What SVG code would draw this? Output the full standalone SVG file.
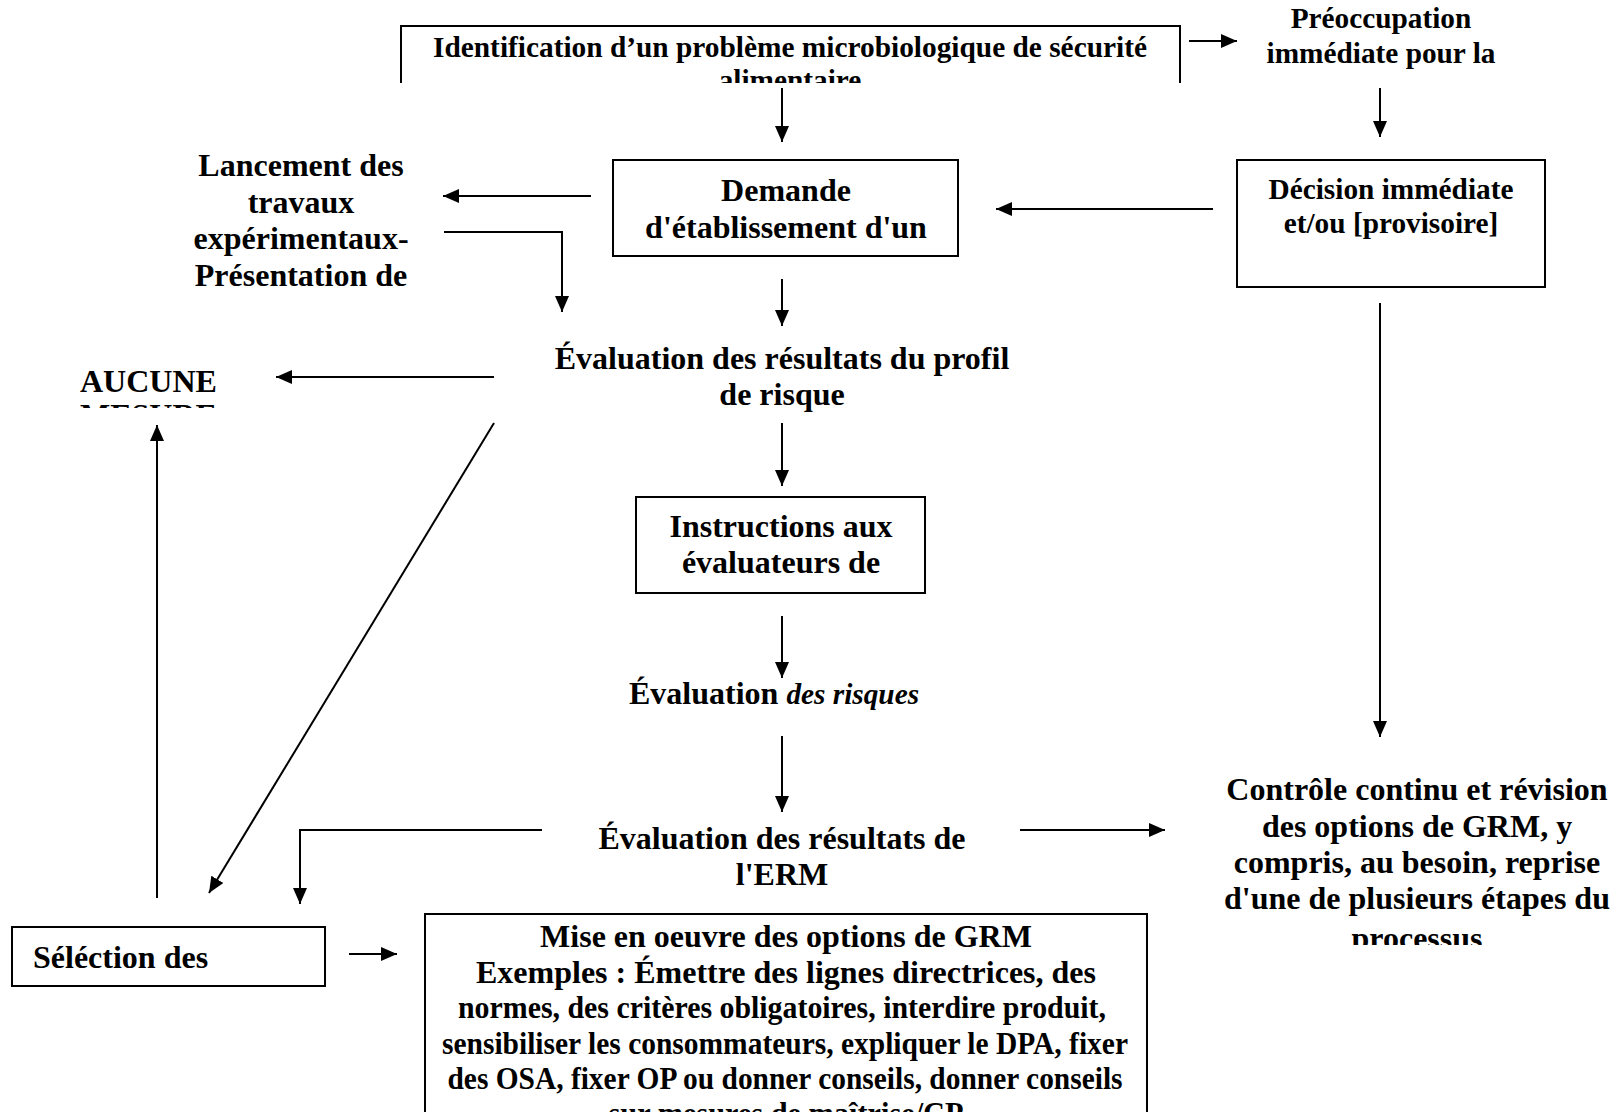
<svg xmlns="http://www.w3.org/2000/svg" width="1619" height="1112" viewBox="0 0 1619 1112">
<style>
.t{font-family:"Liberation Serif","Times New Roman",serif;font-weight:bold;font-size:32px;text-anchor:middle;fill:#000}
.s{font-size:29.3px}
.b{fill:#fff;stroke:#000;stroke-width:2}
.o{fill:none;stroke:#000;stroke-width:2}
.c{fill:none;stroke:#000;stroke-width:2;marker-end:url(#ah)}
</style>
<defs>
<marker id="ah" markerUnits="userSpaceOnUse" markerWidth="17" markerHeight="15" refX="16" refY="7" orient="auto">
<path d="M0,0 L16,7 L0,14 Z" fill="#000"/>
</marker>
<clipPath id="clipTop"><rect x="0" y="0" width="1619" height="83"/></clipPath>
<clipPath id="clipAucune"><rect x="0" y="340" width="400" height="68"/></clipPath>
<clipPath id="clipCtrl"><rect x="1180" y="740" width="439" height="205"/></clipPath>
</defs>
<rect width="1619" height="1112" fill="#fff"/>

<g id="connectors">
<path class="c" d="M1189,41 H1237"/>
<path class="c" d="M1380,88 V137"/>
<path class="c" d="M1213,209 H996"/>
<path class="c" d="M782,88 V142"/>
<path class="c" d="M591,196 H443"/>
<path class="c" d="M444,232 H562 V312"/>
<path class="c" d="M782,279 V326"/>
<path class="c" d="M494,377 H276"/>
<path class="c" d="M494,423 L209,893"/>
<path class="c" d="M782,423 V486"/>
<path class="c" d="M782,616 V678"/>
<path class="c" d="M782,736 V812"/>
<path class="c" d="M542,830 H300 V904"/>
<path class="c" d="M1020,830 H1165"/>
<path class="c" d="M1380,303 V737"/>
<path class="c" d="M157,898 V425"/>
<path class="c" d="M349,954 H397"/>
</g>

<g id="n-identification">
<path class="o" d="M401,83 V26 H1180 V83"/>
<g clip-path="url(#clipTop)">
<text class="t s" x="790" y="57" textLength="714" lengthAdjust="spacingAndGlyphs">Identification d’un problème microbiologique de sécurité</text>
<text class="t s" x="790" y="90">alimentaire</text>
</g>
</g>

<g id="n-preoccupation">
<text class="t s" x="1381" y="28">Préoccupation</text>
<text class="t s" x="1381" y="63">immédiate pour la</text>
</g>

<g id="n-decision">
<rect class="b" x="1237" y="160" width="308" height="127"/>
<text class="t s" x="1391" y="199">Décision immédiate</text>
<text class="t s" x="1391" y="233">et/ou [provisoire]</text>
</g>

<g id="n-demande">
<rect class="b" x="613" y="160" width="345" height="96"/>
<text class="t" x="786" y="201">Demande</text>
<text class="t" x="786" y="238">d'établissement d'un</text>
</g>

<g id="n-lancement">
<text class="t" x="301" y="176">Lancement des</text>
<text class="t" x="301" y="213">travaux</text>
<text class="t" x="301" y="249">expérimentaux-</text>
<text class="t" x="301" y="286">Présentation de</text>
</g>

<g id="n-eval-profil">
<text class="t" x="782" y="369">Évaluation des résultats du profil</text>
<text class="t" x="782" y="405">de risque</text>
</g>

<g id="n-aucune">
<g clip-path="url(#clipAucune)">
<text class="t" x="80" y="392" style="text-anchor:start">AUCUNE</text>
<text class="t" x="80" y="426" style="text-anchor:start">MESURE</text>
</g>
</g>

<g id="n-instructions">
<rect class="b" x="636" y="497" width="289" height="96"/>
<text class="t" x="781" y="537">Instructions aux</text>
<text class="t" x="781" y="573">évaluateurs de</text>
</g>

<g id="n-eval-risques">
<text class="t" x="629" y="704" style="text-anchor:start">Évaluation <tspan style="font-style:italic;font-size:29.3px">des risques</tspan></text>
</g>

<g id="n-eval-erm">
<text class="t" x="782" y="849">Évaluation des résultats de</text>
<text class="t" x="782" y="885">l'ERM</text>
</g>

<g id="n-controle">
<g clip-path="url(#clipCtrl)">
<text class="t" x="1417" y="800">Contrôle continu et révision</text>
<text class="t" x="1417" y="837">des options de GRM, y</text>
<text class="t" x="1417" y="873">compris, au besoin, reprise</text>
<text class="t" x="1417" y="909">d'une de plusieurs étapes du</text>
<text class="t" x="1417" y="949">processus</text>
</g>
</g>

<g id="n-selection">
<rect class="b" x="12" y="927" width="313" height="59"/>
<text class="t" x="33" y="968" style="text-anchor:start">Séléction des</text>
</g>

<g id="n-mise">
<path class="o" d="M425,1112 V914 H1147 V1112"/>
<text class="t" x="786" y="947">Mise en oeuvre des options de GRM</text>
<text class="t" x="786" y="983">Exemples : Émettre des lignes directrices, des</text>
<text class="t" x="782" y="1018" textLength="648" lengthAdjust="spacingAndGlyphs">normes, des critères obligatoires, interdire produit,</text>
<text class="t" x="785" y="1054" textLength="686" lengthAdjust="spacingAndGlyphs">sensibiliser les consommateurs, expliquer le DPA, fixer</text>
<text class="t" x="785" y="1089" textLength="675" lengthAdjust="spacingAndGlyphs">des OSA, fixer OP ou donner conseils, donner conseils</text>
<text class="t" x="786" y="1124" textLength="355" lengthAdjust="spacingAndGlyphs">sur mesures de maîtrise/CP</text>
</g>
</svg>
